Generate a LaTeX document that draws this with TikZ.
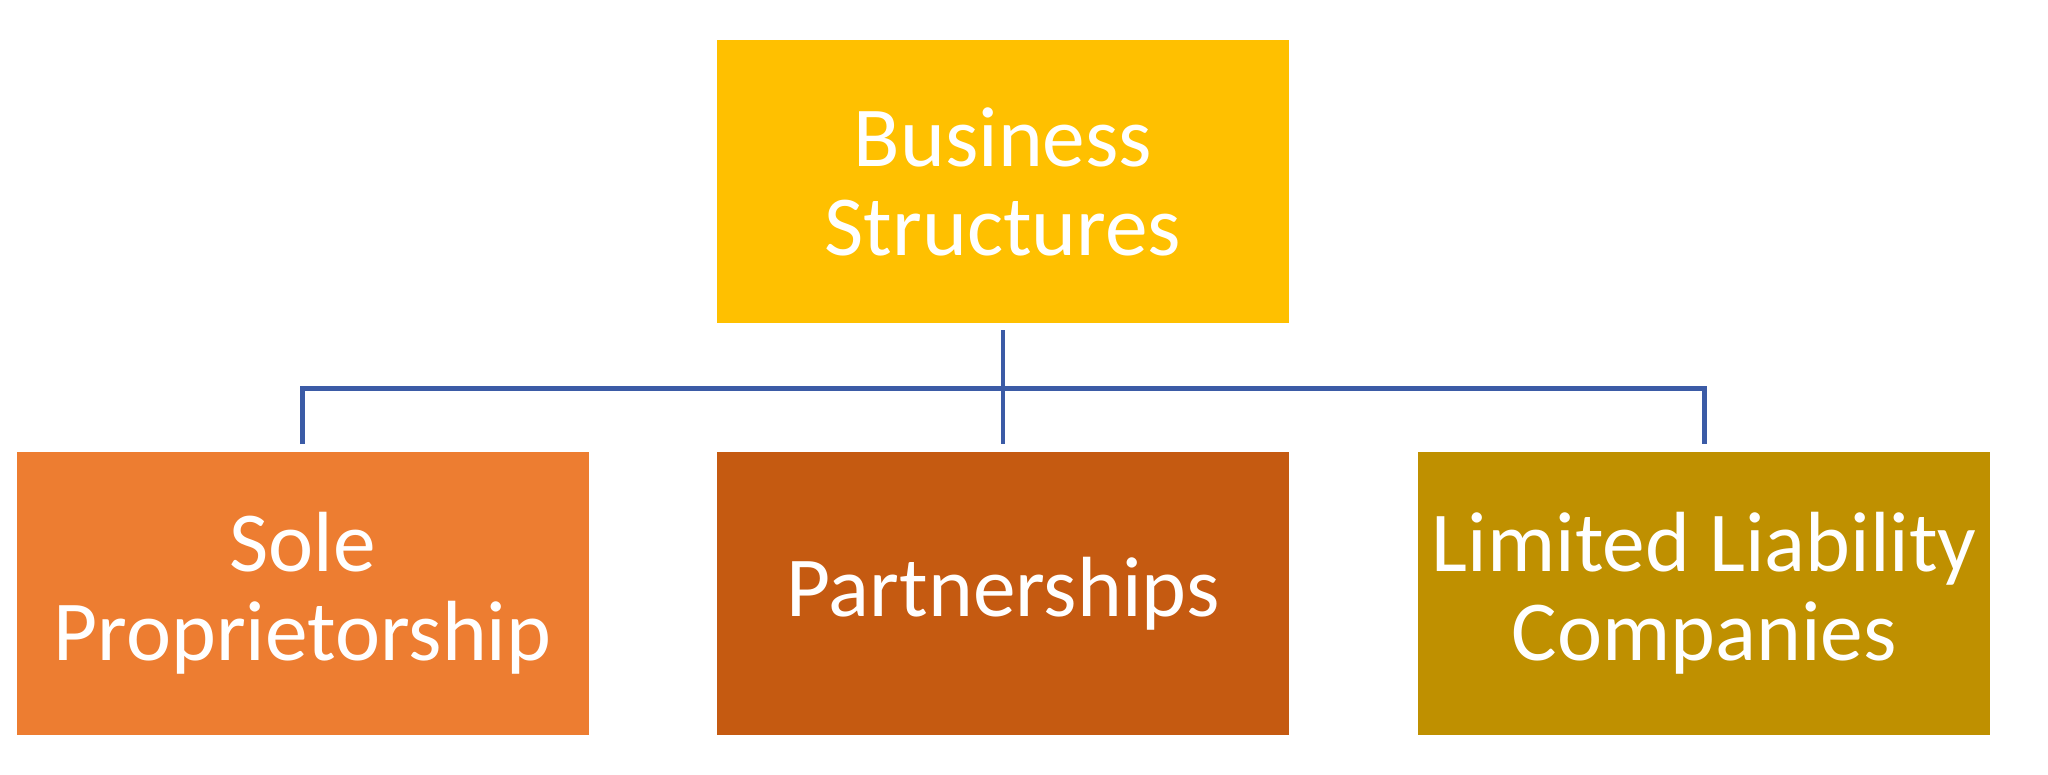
\documentclass[tikz,border=0pt]{standalone}
\usepackage{fontspec}
\setmainfont{Carlito}
\usetikzlibrary{positioning}
\definecolor{topgold}{RGB}{255,192,0}
\definecolor{soleorange}{RGB}{237,125,49}
\definecolor{partrust}{RGB}{197,90,17}
\definecolor{llcolive}{RGB}{191,144,0}
\definecolor{linkblue}{RGB}{59,91,166}

\begin{document}
\begin{tikzpicture}[
    box/.style = {rectangle, draw=none, text=white, align=center, inner sep=0pt,
      minimum width=5.72cm, minimum height=2.83cm,
      font=\fontsize{24.3}{25.5}\selectfont},
    link/.style = {draw=linkblue, line width=1.4pt}
  ]
      \useasboundingbox (0,0) rectangle (20.48,-7.75);
      \node [box, fill=topgold] (bs) at (10.03,-1.82) {Business\\Structures};
      \node [box, fill=partrust, below=1.27cm of bs] (prt) {Partnerships};
      \node [box, fill=soleorange, left=1.27cm of prt] (sole) {Sole\\Proprietorship};
      \node [box, fill=llcolive, right=1.28cm of prt] (llc) {Limited Liability\\Companies};
      \draw [link] ([yshift=-0.06cm]bs.south) -- ([yshift=0.07cm]prt.north);
      \draw [link] ([yshift=0.07cm]sole.north) -- ++(0,0.56) -| ([yshift=0.07cm]llc.north);
    \end{tikzpicture}
\end{document}
